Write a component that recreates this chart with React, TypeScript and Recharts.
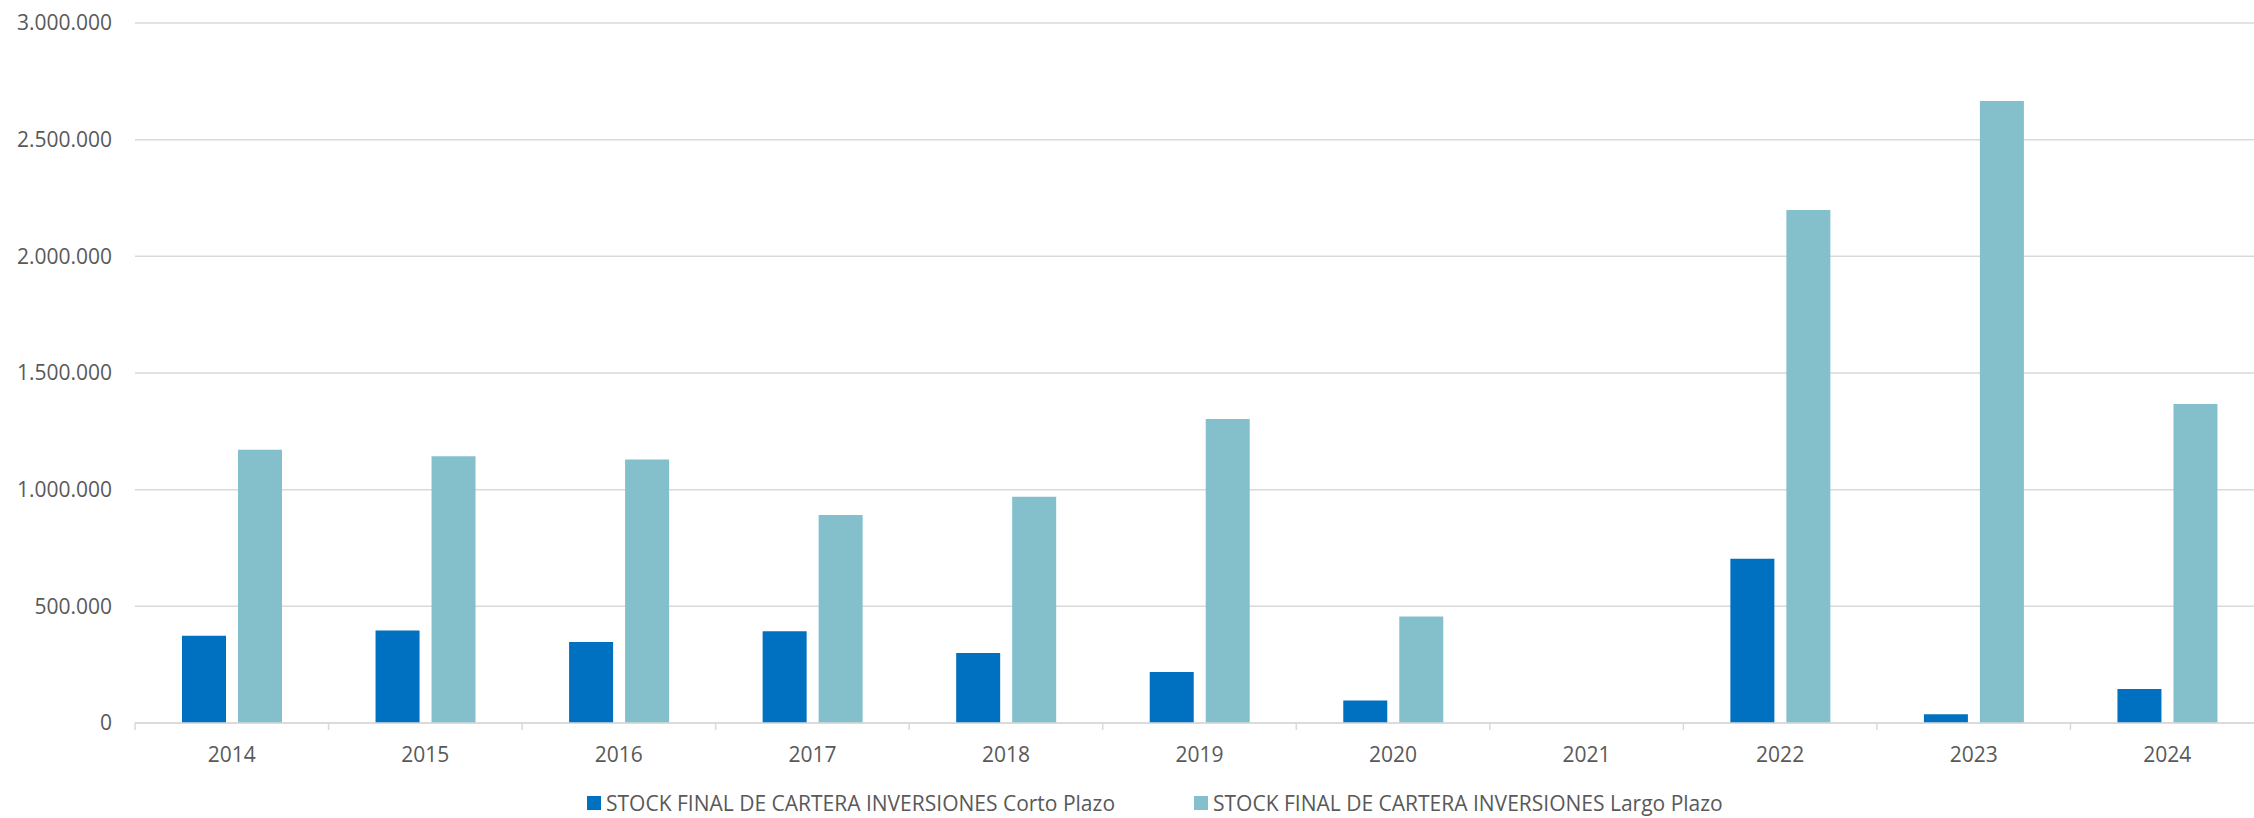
import React from "react";
import { BarChart, Bar, XAxis, YAxis, CartesianGrid, Legend } from "recharts";

const years = ["2014", "2015", "2016", "2017", "2018", "2019", "2020", "2021", "2022", "2023", "2024"];
const cortoPlazo = [374000, 396000, 347000, 393000, 300000, 219000, 96000, 0, 704000, 38000, 146000];
const largoPlazo = [1171000, 1143000, 1129000, 891000, 970000, 1303000, 456000, 0, 2199000, 2666000, 1367000];
const yTicks = [0, 500000, 1000000, 1500000, 2000000, 2500000, 3000000];

const seriesNames = {
  corto: "STOCK FINAL DE CARTERA INVERSIONES Corto Plazo",
  largo: "STOCK FINAL DE CARTERA INVERSIONES Largo Plazo",
};
const colors = { corto: "#0070C0", largo: "#83C0CC" };

const FONT = "'Open Sans', sans-serif";
const TEXT = "#595959";
const GRID = "#D9D9D9";

const data = years.map((year, i) => ({
  year,
  corto: cortoPlazo[i],
  largo: largoPlazo[i],
}));

// 3000000 -> "3.000.000"
const fmt = (v: number) => String(v).replace(/\B(?=(\d{3})+(?!\d))/g, ".");

// Excel-style category axis: tick marks sit between categories
function YearTick(props: any) {
  const { x, y, payload } = props;
  const half = payload.offset || 0;
  return (
    <g>
      <line x1={x - half} x2={x - half} y1={y - 24} y2={y - 17} stroke={GRID} strokeWidth={1.5} />
      <text x={x} y={y} dy="0.71em" textAnchor="middle" fill={TEXT} fontSize={21} fontFamily={FONT}>
        {payload.value}
      </text>
    </g>
  );
}

function LegendContent() {
  const items = [
    { key: "corto", label: seriesNames.corto, color: colors.corto },
    { key: "largo", label: seriesNames.largo, color: colors.largo },
  ];
  return (
    <div style={{ display: "flex", height: 30, alignItems: "center", gap: 79 }}>
      {items.map((it) => (
        <div key={it.key} style={{ display: "flex", alignItems: "center" }}>
          <span style={{ width: 14, height: 14, background: it.color, display: "inline-block", marginRight: 5 }} />
          <span style={{ fontFamily: FONT, fontSize: 21, color: TEXT, lineHeight: "28px", whiteSpace: "nowrap" }}>
            {it.label}
          </span>
        </div>
      ))}
    </div>
  );
}

export default function App() {
  return (
    <div style={{ position: "absolute", left: 0, top: 0, width: 2254, height: 818, overflow: "hidden", background: "#fff" }}>
      <BarChart
        width={2264}
        height={818}
        data={data}
        margin={{ top: 23, right: 0, bottom: 0, left: 0 }}
        barCategoryGap={47}
        barGap={12}
      >
        <CartesianGrid vertical={false} stroke={GRID} strokeWidth={1.5} />
        <XAxis
          dataKey="year"
          height={65}
          axisLine={{ stroke: GRID, strokeWidth: 1.5 }}
          tickLine={false}
          tickSize={0}
          tickMargin={24}
          interval={0}
          tick={<YearTick />}
        />
        <YAxis
          width={135}
          domain={[0, 3000000]}
          ticks={yTicks}
          tickFormatter={fmt}
          axisLine={false}
          tickLine={false}
          tickSize={0}
          tickMargin={23}
          tick={{ fill: TEXT, fontSize: 21, fontFamily: FONT }}
        />
        <Legend
          verticalAlign="bottom"
          content={<LegendContent />}
          wrapperStyle={{ left: 587, width: "auto" }}
        />
        <Bar dataKey="corto" name={seriesNames.corto} fill={colors.corto} isAnimationActive={false} />
        <Bar dataKey="largo" name={seriesNames.largo} fill={colors.largo} isAnimationActive={false} />
      </BarChart>
    </div>
  );
}
